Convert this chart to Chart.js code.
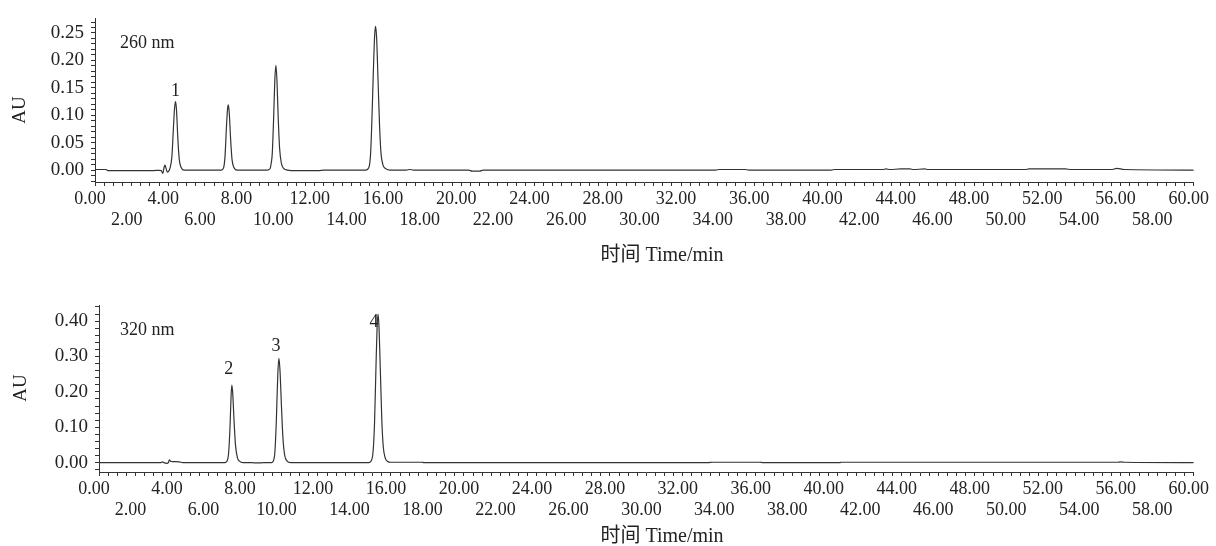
<!DOCTYPE html>
<html>
<head>
<meta charset="utf-8">
<script src="https://cdn.jsdelivr.net/npm/chart.js@4.4.1/dist/chart.umd.min.js"></script>
<style>
  html, body { margin: 0; padding: 0; background: #fff; }
  #wrap { position: relative; width: 1216px; height: 546px; }
  canvas { position: absolute; left: 0; }
</style>
</head>
<body>
<div id="wrap">
  <canvas id="c260" width="1216" height="273" style="top:0"></canvas>
  <canvas id="c320" width="1216" height="273" style="top:273px"></canvas>
</div>
<script>
// 260 nm trace (time in min, absorbance in AU)
const time260 = [
  0.00, 0.60, 0.70, 3.20, 3.50, 3.62, 3.70, 3.78, 3.82, 3.88, 3.95, 4.02,
  4.10, 4.20, 4.28, 4.35, 4.40, 4.45, 4.52, 4.60, 4.70, 4.85,
  6.90, 7.02, 7.10, 7.18, 7.24, 7.28, 7.33, 7.40, 7.48, 7.58, 7.75,
  9.40, 9.55, 9.62, 9.68, 9.75, 9.82, 9.88, 9.94, 10.00, 10.08, 10.18, 10.30, 10.50,
  11.00, 12.20, 12.50,
  14.80, 14.95, 15.05, 15.12, 15.20, 15.27, 15.32, 15.38, 15.46, 15.54, 15.62, 15.72, 15.85, 16.10,
  17.00, 17.20, 17.40, 20.40, 20.60, 21.00, 21.20,
  33.90, 34.10, 35.50, 35.70, 40.20, 40.40, 43.00, 43.20, 43.40, 44.00, 44.50, 44.70,
  45.30, 45.50, 50.80, 51.00, 53.00, 53.30, 55.50, 55.80, 56.20, 60.00
]
const au260 = [
  0.001, 0.001, -0.001, -0.001, -0.0005, -0.001, -0.006, 0.006, 0.009, 0.003, -0.004, -0.002,
  0.004, 0.025, 0.075, 0.115, 0.125, 0.110, 0.060, 0.020, 0.005, 0.000,
  0.000, 0.004, 0.025, 0.080, 0.112, 0.119, 0.105, 0.060, 0.020, 0.005, 0.000,
  0.000, 0.002, 0.012, 0.030, 0.090, 0.165, 0.191, 0.160, 0.100, 0.040, 0.012, 0.003, 0.000,
  -0.001, -0.001, 0.000,
  0.000, 0.004, 0.030, 0.090, 0.180, 0.245, 0.262, 0.240, 0.160, 0.080, 0.030, 0.010, 0.003, 0.000,
  0.000, 0.001, 0.000, 0.000, -0.002, -0.002, 0.000,
  0.000, 0.001, 0.001, 0.000, 0.000, 0.001, 0.001, 0.002, 0.001, 0.002, 0.002, 0.001,
  0.002, 0.001, 0.001, 0.002, 0.002, 0.001, 0.001, 0.003, 0.001, 0.000
]

// 320 nm trace
const time320 = [
  0.00, 3.40, 3.48, 3.55, 3.72, 3.80, 3.86, 3.92, 4.00, 4.40, 4.60,
  6.90, 7.00, 7.10, 7.18, 7.24, 7.28, 7.33, 7.40, 7.48, 7.58, 7.70, 7.90, 8.40, 8.50, 8.90, 9.00,
  9.45, 9.55, 9.64, 9.72, 9.80, 9.86, 9.92, 10.00, 10.08, 10.18, 10.30, 10.50, 12.50,
  14.80, 14.92, 15.02, 15.10, 15.18, 15.24, 15.29, 15.34, 15.42, 15.50, 15.58, 15.68, 15.80, 16.00,
  17.70, 17.80, 33.40, 33.60, 36.20, 36.40, 40.60, 40.70, 55.80, 56.00, 56.20, 60.00
]
const au320 = [
  0.000, 0.000, 0.002, 0.000, -0.002, 0.000, 0.008, 0.004, 0.003, 0.002, 0.000,
  0.000, 0.003, 0.025, 0.100, 0.190, 0.219, 0.195, 0.120, 0.050, 0.015, 0.004, 0.000, 0.000, -0.001, -0.001, 0.000,
  0.000, 0.004, 0.030, 0.120, 0.250, 0.295, 0.260, 0.160, 0.070, 0.020, 0.005, 0.000, 0.000,
  0.000, 0.005, 0.030, 0.110, 0.270, 0.380, 0.420, 0.390, 0.260, 0.120, 0.045, 0.014, 0.004, 0.001,
  0.001, 0.000, 0.000, 0.001, 0.001, 0.000, 0.000, 0.001, 0.001, 0.002, 0.001, 0.000
]

// peak numbers and the retention times they sit on
const peakNames260 = ['1']
const peakTimes260 = [4.40]
const peakNames320 = ['2', '3', '4']
const peakTimes320 = [7.28, 9.86, 15.29]

const FONT = "18px 'Liberation Serif', 'Times New Roman', serif"
const TITLE_FONT = "20px 'Liberation Serif', 'Noto Sans CJK SC', serif"
const INK = '#222'

// 文字标注：峰号、波长、AU、横轴标题
const notesPlugin = {
    id: 'notes',
    afterDraw(chart, args, opts) {
        const { ctx } = chart
        const x = chart.scales.x
        const y = chart.scales.y
        ctx.save()
        ctx.fillStyle = INK
        ctx.font = FONT
        ctx.textAlign = 'center'
        ctx.textBaseline = 'middle'

        opts.names.forEach((name, i) => {
            const t = opts.times[i]
            const k = opts.trace.t.indexOf(t)
            const v = opts.trace.v[k]
            const off = opts.offsets[i]
            ctx.fillText(name, x.getPixelForValue(t) + off[0], y.getPixelForValue(v) + off[1])
        })

        ctx.textAlign = 'left'
        ctx.fillText(opts.wave, opts.wavePos[0], opts.wavePos[1])

        ctx.save()
        ctx.translate(opts.auPos[0], opts.auPos[1])
        ctx.rotate(-Math.PI / 2)
        ctx.textAlign = 'center'
        ctx.font = "19px 'Liberation Serif', 'Times New Roman', serif"
        ctx.fillText('AU', 0, 0)
        ctx.restore()

        ctx.font = TITLE_FONT
        ctx.textAlign = 'center'
        ctx.fillText('时间 Time/min', opts.titlePos[0], opts.titlePos[1])
        ctx.restore()
    }
}

function makeChart(id, times, values, box, yRange, yStep, yLabelEvery, notes) {
    const H = 273
    const xFont = { family: "'Liberation Serif', 'Times New Roman', serif", size: 18, lineHeight: 1.2 }
    const yFont = { family: "'Liberation Serif', 'Times New Roman', serif", size: 19 }
    return new Chart(document.getElementById(id), {
        type: 'line',
        data: {
            datasets: [{
                data: times.map((t, i) => ({ x: t, y: values[i] })),
                borderColor: '#333',
                borderWidth: 1.2,
                pointRadius: 0,
                fill: false,
                cubicInterpolationMode: 'monotone',
            }]
        },
        options: {
            responsive: false,
            animation: false,
            devicePixelRatio: 1,
            layout: { padding: { top: box.top, right: 1216 - box.right, left: 0, bottom: 0 } },
            plugins: {
                legend: { display: false },
                tooltip: { enabled: false },
                notes: { ...notes, trace: { t: times, v: values } },
            },
            scales: {
                x: {
                    type: 'linear',
                    min: 0,
                    max: 60,
                    afterFit(s) { s.height = H - box.bottom },
                    border: { display: true, color: '#333', width: 1 },
                    grid: { drawOnChartArea: false, drawTicks: true, tickLength: 4, color: '#333' },
                    ticks: {
                        stepSize: 0.5,
                        autoSkip: false,
                        maxRotation: 0,
                        minRotation: 0,
                        includeBounds: false,
                        padding: 2,
                        labelOffset: -5,
                        color: INK,
                        font: xFont,
                        callback(v) {
                            const h = Math.round(v * 2)
                            if (h % 8 === 0) return [(h / 2).toFixed(2)]
                            if (h % 4 === 0) return ['', (h / 2).toFixed(2)]
                            return ''
                        }
                    }
                },
                y: {
                    min: yRange[0],
                    max: yRange[1],
                    afterFit(s) { s.width = box.left },
                    border: { display: true, color: '#333', width: 1 },
                    grid: { drawOnChartArea: false, drawTicks: true, tickLength: 4, color: '#333' },
                    ticks: {
                        stepSize: yStep,
                        autoSkip: false,
                        includeBounds: false,
                        padding: 7,
                        color: INK,
                        font: yFont,
                        callback(v) {
                            const r = Math.round(v * 100)
                            return (r >= 0 && r % yLabelEvery === 0) ? (r / 100).toFixed(2) : ''
                        }
                    }
                }
            }
        },
        plugins: [notesPlugin]
    })
}

makeChart('c260', time260, au260,
    { left: 95, right: 1194, top: 14, bottom: 182 },
    [-0.0218, 0.2766], 0.01, 5,
    {
        names: peakNames260, times: peakTimes260,
        offsets: [[0, -10]],
        wave: '260 nm', wavePos: [120, 43],
        auPos: [20, 110],
        titlePos: [662, 256],
    })

makeChart('c320', time320, au320,
    { left: 99, right: 1196, top: 32, bottom: 199 },
    [-0.0266, 0.4456], 0.02, 10,
    {
        names: peakNames320, times: peakTimes320,
        offsets: [[-3, -16], [-3, -12], [-4, 8]],
        wave: '320 nm', wavePos: [120, 57],
        auPos: [21, 115],
        titlePos: [662, 264],
    })
</script>
</body>
</html>
